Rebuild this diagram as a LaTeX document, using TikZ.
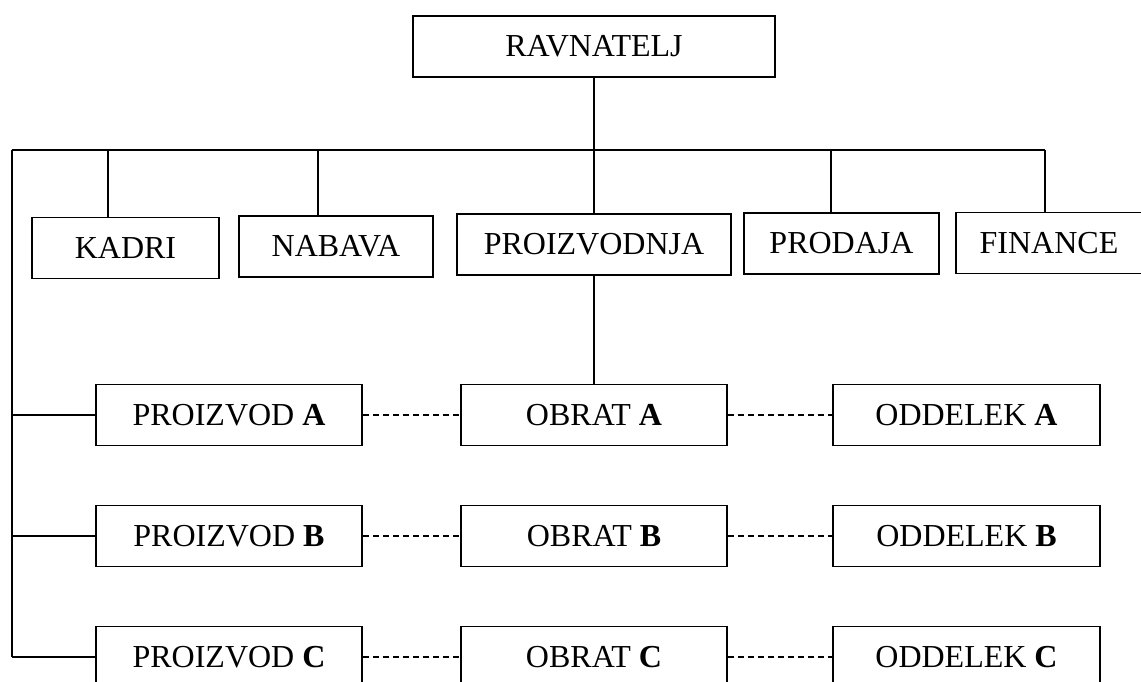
\documentclass[tikz,border=0pt]{standalone}
\usepackage{fontspec}
\setmainfont{Liberation Serif}
\usepackage{tikz}
\usetikzlibrary{calc}
\tikzset{
  unit/.style={draw, line width=1.8pt, inner sep=0pt, minimum height=61pt, font=\fontsize{32}{38}\selectfont},
  link/.style={line width=1.5pt},
  dotlink/.style={line width=1.5pt, dash pattern=on 6pt off 4pt},
}

\begin{document}
\begin{tikzpicture}[x=1pt,y=-1pt]
  \useasboundingbox (0,0) rectangle (1141,682);
  % Director
  \node[unit, minimum width=362pt] (rav) at (594,46.5) {RAVNATELJ};
  % Departments
  \node[unit, minimum width=187pt] (kadri) at (125.5,248) {KADRI};
  \node[unit, minimum width=194pt] (nabava) at (336,246.5) {NABAVA};
  \node[unit, minimum width=274pt] (proizv) at (594,244.5) {PROIZVODNJA};
  \node[unit, minimum width=195pt] (prodaja) at (841.5,243.5) {PRODAJA};
  \node[unit, minimum width=186pt] (finance) at (1049,243) {FINANCE};
  % Bus line
  \coordinate (busL) at (12,150);
  \coordinate (busR) at (1045,150);
  \draw[link] (busL) -- (busR);
  \draw[link] (rav.south) -- (proizv.north);
  \draw[link] (kadri.north) ++(-17.5,0) coordinate (k1) -- (k1 |- busL);
  \draw[link] (nabava.north) ++(-18,0) coordinate (k2) -- (k2 |- busL);
  \draw[link] (prodaja.north) ++(-10.5,0) coordinate (k3) -- (k3 |- busL);
  \draw[link] (finance.north) ++(-4,0) coordinate (k4) -- (k4 |- busL);
  % Products, plants, sections
  \foreach \r/\y in {A/415,B/536,C/657} {
    \node[unit, minimum width=266pt] (prod\r) at (229,\y) {PROIZVOD \textbf{\r}};
    \node[unit, minimum width=266pt] (obrat\r) at (594,\y) {OBRAT \textbf{\r}};
    \node[unit, minimum width=267pt] (odd\r) at (966.5,\y) {ODDELEK \textbf{\r}};
    \draw[dotlink] (prod\r) -- (obrat\r);
    \draw[dotlink] (obrat\r) -- (odd\r);
    \draw[link] (busL |- prod\r.west) -- (prod\r.west);
  }
  \draw[link] (busL) -- (busL |- prodC.west);
  \draw[link] (proizv.south) -- (obratA.north);
\end{tikzpicture}
\end{document}
